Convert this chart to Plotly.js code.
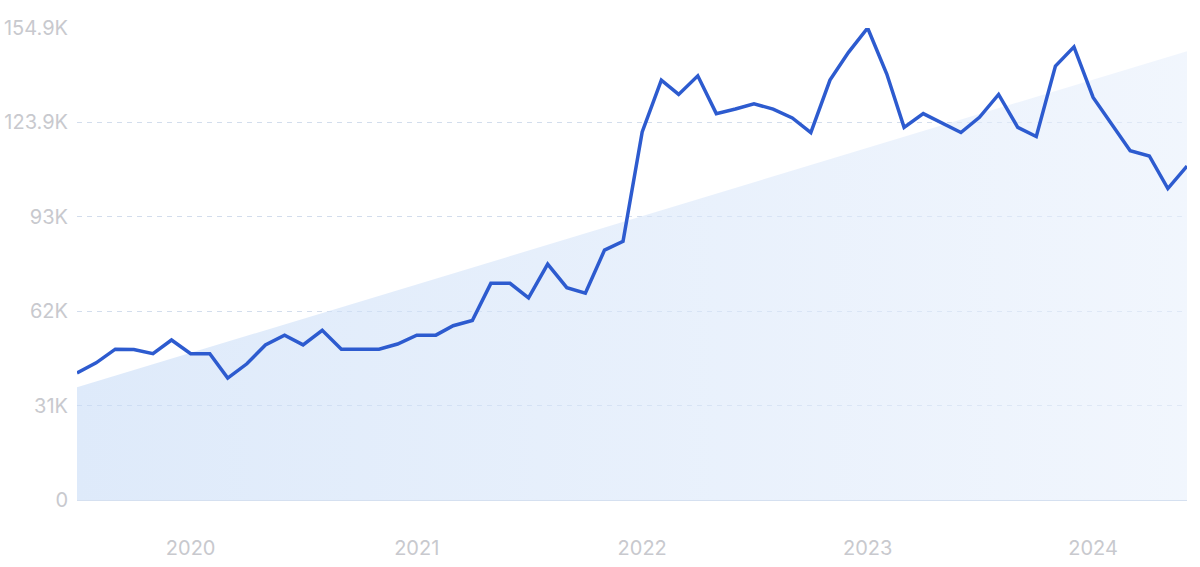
<!DOCTYPE html>
<html>
<head>
<meta charset="utf-8">
<script src="https://cdn.plot.ly/plotly-3.0.1.min.js"></script>
<style>html,body{margin:0;padding:0;background:#fff;}#chart{width:1200px;height:567px;}</style>
</head>
<body>
<div id="chart"></div>
<script>
const months = [
 '2019-07-01','2019-08-01','2019-09-01','2019-10-01','2019-11-01','2019-12-01',
 '2020-01-01','2020-02-01','2020-03-01','2020-04-01','2020-05-01','2020-06-01',
 '2020-07-01','2020-08-01','2020-09-01','2020-10-01','2020-11-01','2020-12-01',
 '2021-01-01','2021-02-01','2021-03-01','2021-04-01','2021-05-01','2021-06-01',
 '2021-07-01','2021-08-01','2021-09-01','2021-10-01','2021-11-01','2021-12-01',
 '2022-01-01','2022-02-01','2022-03-01','2022-04-01','2022-05-01','2022-06-01',
 '2022-07-01','2022-08-01','2022-09-01','2022-10-01','2022-11-01','2022-12-01',
 '2023-01-01','2023-02-01','2023-03-01','2023-04-01','2023-05-01','2023-06-01',
 '2023-07-01','2023-08-01','2023-09-01','2023-10-01','2023-11-01','2023-12-01',
 '2024-01-01','2024-02-01','2024-03-01','2024-04-01','2024-05-01','2024-06-01'
];
const searches = [
 41700, 45000, 49500, 49400, 48000, 52500,
 48000, 48000, 40000, 44700, 50900, 54100,
 50900, 55700, 49500, 49500, 49500, 51200,
 54100, 54100, 57200, 58900, 71100, 71100,
 66300, 77400, 69700, 67900, 82000, 84900,
 120800, 137800, 133100, 139200, 126800, 128300,
 130000, 128300, 125400, 120600, 137800, 146900,
 154900, 139800, 122300, 126800, 123800, 120600,
 125600, 133100, 122300, 119300, 142400, 148700,
 132100, 123200, 114600, 112900, 102200, 109600
];
const trendX = ['2019-07-01', '2024-06-01'];
const trendY = [37000, 147300];
const yTickVals = [0, 30980, 61960, 92940, 123920, 154900];
const yTickText = ['0', '31K', '62K', '93K', '123.9K', '154.9K'];
const xTickVals = ['2020-01-01','2021-01-01','2022-01-01','2023-01-01','2024-01-01'];
const xTickText = ['2020','2021','2022','2023','2024'];

const traces = [
 {
  x: trendX, y: trendY, type: 'scatter', mode: 'lines',
  line: {width: 0, color: 'rgba(0,0,0,0)'},
  fill: 'tozeroy',
  fillcolor: 'rgba(200,220,247,0.6)',
  fillgradient: {type: 'horizontal', colorscale: [[0, 'rgba(200,220,247,0.6)'], [1, 'rgba(232,240,252,0.6)']]},
  hoverinfo: 'skip', showlegend: false
 },
 {
  x: months, y: searches, type: 'scatter', mode: 'lines',
  line: {color: 'rgb(45,91,207)', width: 3.5, shape: 'linear'},
  showlegend: false
 }
];

const layout = {
 width: 1200, height: 567,
 margin: {l: 77, r: 13, t: 28, b: 67},
 paper_bgcolor: '#ffffff', plot_bgcolor: '#ffffff',
 font: {family: 'Inter, "Open Sans", sans-serif', color: '#c8c9ce', size: 20},
 xaxis: {
  type: 'date', range: ['2019-07-01', '2024-06-01'],
  tickvals: xTickVals, ticktext: xTickText,
  showgrid: false, zeroline: false,
  showline: true, linecolor: '#d5e0f0', linewidth: 1,
  ticks: '', ticklabelstandoff: 30,
  tickfont: {size: 20, color: '#c8c9ce'}
 },
 yaxis: {
  range: [0, 154900], tickvals: yTickVals, ticktext: yTickText,
  showgrid: true, gridcolor: '#d3ddec', griddash: '5px,5px', gridwidth: 1,
  zeroline: false, showline: false, ticks: '', ticklabelstandoff: 8,
  tickfont: {size: 20, color: '#c8c9ce'}
 },
 showlegend: false
};
Plotly.newPlot('chart', traces, layout, {staticPlot: true, displayModeBar: false});
</script>
</body>
</html>
